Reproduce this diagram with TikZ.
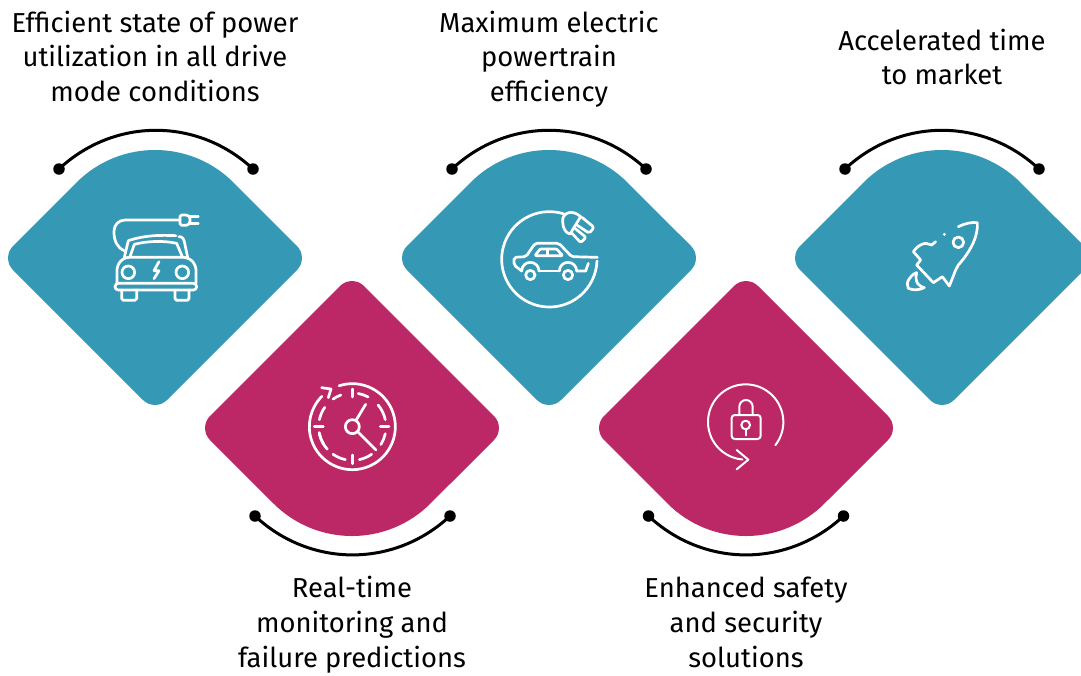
\documentclass[tikz,border=0pt]{standalone}
\usepackage{fontspec}
\setmainfont{Fira Sans}
\usepackage{tikz}
\usetikzlibrary{calc}
\definecolor{tealc}{HTML}{3598B5}
\definecolor{magc}{HTML}{BC2766}
\tikzset{
  x=1pt,y=-1pt,
  dot/.style={circle,fill=black,inner sep=0pt,minimum size=11.5pt},
  conn/.style={draw=black,line width=3pt},
  lab/.style={align=center,inner sep=0pt,font=\fontsize{27.4}{34.6}\selectfont},
  ic/.style={draw=white,line width=2.7pt,line cap=round,line join=round},
  ict/.style={draw=white,line width=2pt,line cap=round,line join=round},
  shapeup/.pic={
    \fill[pic actions] (-78.5,-75.5) arc[start angle=-135,end angle=-45,radius=111]
      -- (142,-12) .. controls (148.6,-5.4) and (148.6,5.4) .. (142,12)
      -- (12,142) .. controls (5.4,148.6) and (-5.4,148.6) .. (-12,142)
      -- (-142,12) .. controls (-148.6,5.4) and (-148.6,-5.4) .. (-142,-12) -- cycle;
  }
}
\begin{document}
\begin{tikzpicture}
\useasboundingbox (0,0) rectangle (1081,675);
\begin{scope}
\clip (0,0) rectangle (1081,675);
\pic[fill=tealc] at (155,258) {shapeup};
\pic[fill=tealc] at (549,258) {shapeup};
\pic[fill=tealc] at (942,258) {shapeup};
\pic[fill=magc,yscale=-1] at (352,428) {shapeup};
\pic[fill=magc,yscale=-1] at (746,428) {shapeup};
\end{scope}

% arcs
\foreach \n/\c in {a/156,b/549,c/942}{
  \node[dot] (\n L) at (\c-97,169) {};
  \node[dot] (\n R) at (\c+97,169) {};
  \draw[conn] (\n L.center) to[bend left=43] (\n R.center);
}
\foreach \n/\c in {d/352.5,e/746}{
  \node[dot] (\n L) at (\c-97.5,516) {};
  \node[dot] (\n R) at (\c+97.5,516) {};
  \draw[conn] (\n L.center) to[bend right=43] (\n R.center);
}

% labels
\node[lab] (t1) at (155,60) {\strut Efficient state of power\\utilization in all drive\\mode conditions\strut};
\node[lab] (t2) at (549,60) {\strut Maximum electric\\powertrain\\efficiency\strut};
\node[lab] (t3) at (942,60.5) {\strut Accelerated time\\to market\strut};
\node[lab] (t4) at (352,625.5) {\strut Real-time\\monitoring and\\failure predictions\strut};
\node[lab] (t5) at (746,625.5) {\strut Enhanced safety\\and security\\solutions\strut};

% car front icon
\begin{scope}[shift={(95,200)},scale=1/3]
\draw[ic] (255,60) -- (90,60) arc[start angle=-90,end angle=-180,radius=33] -- (57,98) .. controls (57,125) and (70,145) .. (87,152);
\draw[ic,rounded corners=1.5] (255,45) -- (278,45) -- (285,52) -- (285,68) -- (278,76) -- (255,76) -- cycle;
\draw[ic] (285,50) -- (310,50) (285,70) -- (310,70);
\draw[ic] (88,172) -- (100,122) .. controls (150,105) and (200,105) .. (243,107);
\draw[ic] (252,110) .. controls (262,110) and (265,115) .. (268,125) -- (278,172);
\draw[ic] (105,170) -- (118,133) .. controls (160,122) and (210,122) .. (245,130) -- (262,170);
\draw[ic,rounded corners=5] (66,250) -- (66,195) -- (88,172) -- (280,172) -- (303,195) -- (303,250);
\draw[ic] (100,217) circle (19) (262,217) circle (19);
\draw[ic] (192,185) -- (177,212) -- (192,212) -- (177,236);
\draw[ic,rounded corners=3.3] (60,250) rectangle (305,270);
\draw[ic,rounded corners=1.7] (80,270) -- (80,301) -- (125,301) -- (125,270);
\draw[ic,rounded corners=1.7] (240,270) -- (240,301) -- (282,301) -- (282,270);
\end{scope}

% car side icon
\begin{scope}[shift={(490,200)},scale=1/3]
\draw[ic] ($(178,178)+(-70:143)$) arc[start angle=-70,end angle=-358,radius=143];
\draw[ic] (272,50) .. controls (245,25) and (215,40) .. (218,65) .. controls (218,85) and (228,100) .. (240,102) -- cycle;
\draw[ic,rounded corners=2] (276,52) -- (312,82) -- (298,100) -- (262,76);
\draw[ic,rounded corners=2] (256,86) -- (288,112) -- (272,128) -- (246,100);
\draw[ic,rounded corners=2] (322,172) -- (245,170) -- (207,130) -- (135,130) -- (108,170) -- (72,172) -- (72,195) -- (95,213);
\draw[ic] (95,213) arc[start angle=180,end angle=360,radius=26];
\draw[ic] (147,213) -- (208,213);
\draw[ic] (208,213) arc[start angle=180,end angle=360,radius=26];
\draw[ic] (260,213) -- (287,213) -- (295,190);
\draw[ic] (121,225) circle (14) (234,225) circle (14);
\draw[ic,rounded corners=1] (135,167) -- (150,147) -- (200,147) -- (218,167) -- cycle;
\draw[ic] (172,147) -- (172,167);
\end{scope}

% rocket icon
\begin{scope}[shift={(890,210)},scale=1/3]
\draw[ic] (205,50) .. controls (225,40) and (245,36) .. (262,38) .. controls (265,75) and (245,120) .. (205,165) -- (197,180) -- (178,228) -- (157,200) -- (130,218) -- (80,165) -- (92,150) -- (70,125) .. controls (80,110) and (95,100) .. (108,100) -- (125,105) -- (137,95);
\draw[ic] (205,97) circle (16);
\fill[white] (163,73) circle (5);
\draw[ic] (80,188) .. controls (60,195) and (45,220) .. (55,235) .. controls (70,242) and (90,240) .. (103,233) .. controls (90,230) and (72,220) .. (80,188) -- cycle;
\end{scope}

% clock icon
\begin{scope}[shift={(295,375)},scale=1/3]
\draw[ic] ($(172,155)+(-108:129)$) arc[start angle=-108,end angle=225,radius=129];
\draw[ic] (80,38) -- (108,42) -- (100,68);
\draw[ic] (172,42) -- (172,66) (172,240) -- (172,266) (58,155) -- (85,155) (256,155) -- (282,155);
\foreach \s/\e in {-110/-125,-145/-168,-192/-222,-62/-80,-12/-40,12/32,55/78,102/125,148/170}{
  \draw[ic] ($(172,155)+(\s:101)$) arc[start angle=\s,end angle=\e,radius=101];
}
\draw[ic] (172,155) circle (21);
\draw[ic] (183,136) -- (212,88) (188,170) -- (243,225);
\end{scope}

% lock icon
\begin{scope}[shift={(695,375)},scale=1/3]
\draw[ict] ($(152,141)+(38:113)$) arc[start angle=38,end angle=-270+5,radius=113];
\draw[ict] (125,225) -- (160,254) -- (125,283);
\draw[ict,rounded corners=3] (110,120) rectangle (197,192);
\draw[ict] (133,120) -- (133,95) arc[start angle=180,end angle=360,radius=20] -- (173,120);
\draw[ict] (152,150) circle (13);
\draw[ict] (152,163) -- (152,181);
\end{scope}
\end{tikzpicture}
\end{document}
